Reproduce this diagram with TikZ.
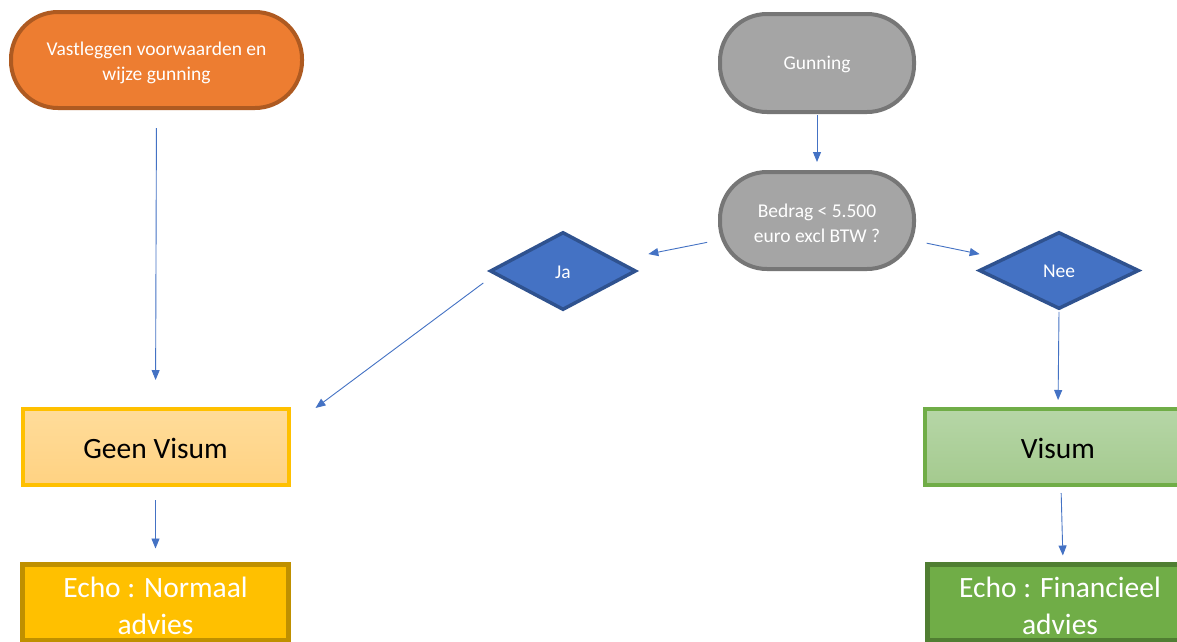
\documentclass[tikz,border=0pt]{standalone}
\usepackage{fontspec}
\setmainfont{Carlito}
\usetikzlibrary{shapes.geometric,arrows.meta}
\definecolor{orfill}{HTML}{ED7D31}
\definecolor{ordraw}{HTML}{AE5A21}
\definecolor{grfill}{HTML}{A5A5A5}
\definecolor{grdraw}{HTML}{767676}
\definecolor{blfill}{HTML}{4472C4}
\definecolor{bldraw}{HTML}{2F528F}
\definecolor{lnblue}{HTML}{4472C4}
\definecolor{yetop}{HTML}{FFDC9A}
\definecolor{yebot}{HTML}{FFD282}
\definecolor{yedraw}{HTML}{FFC000}
\definecolor{gntop}{HTML}{B6D6A7}
\definecolor{gnbot}{HTML}{A4CA8E}
\definecolor{gndraw}{HTML}{70AD47}
\definecolor{gofill}{HTML}{FFC000}
\definecolor{godraw}{HTML}{BF9000}
\definecolor{dgfill}{HTML}{70AD47}
\definecolor{dgdraw}{HTML}{507E32}
\newcommand\tpad[1]{\rule{0pt}{#1}}
\tikzset{
  smalltxt/.style={text=white,font=\fontsize{19.5}{25}\selectfont,align=center},
  bigtxt/.style={font=\fontsize{29.5}{37}\selectfont,align=center},
  stadium/.style={rectangle,rounded corners=47pt,line width=4pt,inner sep=0pt,smalltxt},
  decis/.style={diamond,line width=3.5pt,inner sep=0pt,fill=blfill,draw=bldraw,smalltxt},
  boxn/.style={rectangle,line width=4pt,inner sep=0pt,minimum width=266pt,minimum height=76pt,bigtxt},
  arr/.style={draw=lnblue,line width=0.9pt,-{Triangle[length=10pt,width=8pt]}}
}
\begin{document}
\begin{tikzpicture}[x=1pt,y=-1pt]
\clip (0,0) rectangle (1177,641);
\fill[white] (0,0) rectangle (1177,641);
\node[stadium,fill=orfill,draw=ordraw,minimum width=291pt,minimum height=96pt] (orange) at (156.5,60) {\tpad{18.5pt}Vastleggen voorwaarden en\\wijze gunning};
\node[stadium,fill=grfill,draw=grdraw,minimum width=194pt,minimum height=98pt] (gunning) at (817,63) {\tpad{17pt}Gunning};
\node[stadium,fill=grfill,draw=grdraw,minimum width=194pt,minimum height=97pt] (bedrag) at (817,220.5) {\tpad{18.5pt}Bedrag < 5.500\\euro excl BTW ?};
\node[decis,minimum width=146pt,minimum height=78pt] (ja) at (563,271) {\tpad{15pt}Ja};
\node[decis,minimum width=160pt,minimum height=77pt] (nee) at (1059,270.5) {\tpad{14.5pt}Nee};
\node[boxn,top color=yetop,bottom color=yebot,draw=yedraw] (geen) at (155.5,447) {\tpad{23.5pt}Geen Visum};
\node[boxn,top color=gntop,bottom color=gnbot,draw=gndraw] (visum) at (1058,447) {\tpad{23.5pt}Visum};
\node[boxn,fill=gofill,draw=godraw,text=white,line width=5pt] (echon) at (155.5,602) {\tpad{28.5pt}Echo : Normaal\\advies};
\node[boxn,fill=dgfill,draw=dgdraw,text=white,line width=5pt] (echof) at (1060,602) {\tpad{28.5pt}Echo : Financieel\\advies};
\draw[arr,shorten <=18pt,shorten >=27pt] (orange.south) -- (geen.north);
\draw[arr,shorten <=1pt,shorten >=8pt] (gunning.south) -- (bedrag.north);
\draw[arr,shorten <=112pt,shorten >=87pt] (bedrag.center) -- (ja.center);
\draw[arr,shorten <=112pt,shorten >=81pt] (bedrag.center) -- (nee.center);
\draw[arr] ([shift={(-5,12)}]ja.west) -- ([shift={(25,1)}]geen.north east);
\draw[arr,shorten <=1pt,shorten >=7pt] (nee.south) -- (visum.north);
\draw[arr,shorten <=13pt,shorten >=13pt] (geen.south) -- (echon.north);
\draw[arr,shorten <=6pt,shorten >=6pt] ([xshift=3pt]visum.south) -- ([xshift=3pt]echof.north);
\end{tikzpicture}
\end{document}
